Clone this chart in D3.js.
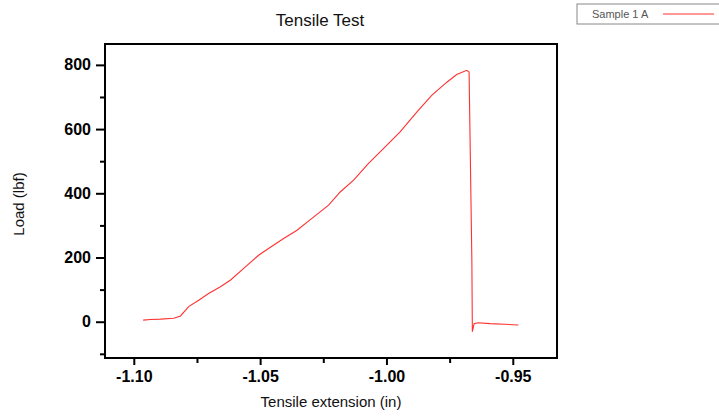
<!DOCTYPE html>
<html>
<head>
<meta charset="utf-8">
<script src="https://cdn.jsdelivr.net/npm/d3@7"></script>
<style>
  body { margin: 0; background: #fff; }
  svg { display: block; font-family: "Liberation Sans", Arial, sans-serif; }
</style>
</head>
<body>
<script>
// data
const extension = [-1.0963, -1.0934, -1.0894, -1.0842, -1.0815, -1.0783, -1.0743, -1.0704, -1.0657, -1.0617,
    -1.0565, -1.0506, -1.0486, -1.0407, -1.0354, -1.0295, -1.0229, -1.0183, -1.0130, -1.0071,
    -1.0012, -0.9946, -0.9880, -0.9821, -0.9761, -0.9722, -0.9682, -0.9673, -0.9662, -0.9660,
    -0.9653, -0.9638, -0.9590, -0.9531, -0.9478];
const load = [5, 7, 8, 11, 18, 47, 67, 88, 109, 130,
    166, 207, 218, 259, 285, 322, 363, 404, 441, 493,
    539, 591, 653, 705, 746, 770, 783, 778, 192, -31,
    -6, -3, -6, -8, -10];
const yTicks = [0, 200, 400, 600, 800];
const yMinor = [-100, 100, 300, 500, 700];
const xTicks = [-1.10, -1.05, -1.00, -0.95];
const xMinor = [-1.075, -1.025, -0.975];

const W = 719, H = 417;
const margin = { top: 44, right: 162, bottom: 59, left: 105 };
const width = W - margin.left - margin.right;
const height = H - margin.top - margin.bottom;

const root = d3.select("body").append("svg")
    .attr("width", W)
    .attr("height", H);

const svg = root.append("g")
    .attr("transform", "translate(" + margin.left + "," + margin.top + ")");

var xScale = d3.scaleLinear()
    .domain([-1.1114, -0.9325])
    .range([0, width]);
var yScale = d3.scaleLinear()
    .domain([-113, 865])
    .range([height, 0]);

// the curve
const points = extension.map((d, i) => [d, load[i]]);
svg.append("path")
    .datum(points)
    .attr("fill", "none")
    .attr("stroke", "#ff3030")
    .attr("stroke-width", 1.1)
    .attr("d", d3.line().x(d => xScale(d[0])).y(d => yScale(d[1])));

// axes
function styleAxis(g) {
    g.select(".domain").remove();
    g.selectAll("line").attr("stroke", "#000").attr("stroke-width", 2);
    g.selectAll("text")
        .attr("fill", "#000")
        .attr("font-weight", "bold")
        .attr("font-size", "16px")
        .attr("font-family", "'Liberation Sans', Arial, sans-serif");
}

svg.append("g")
    .call(d3.axisLeft(yScale).tickValues(yMinor).tickSize(5).tickFormat(""))
    .call(styleAxis);
svg.append("g")
    .call(d3.axisLeft(yScale).tickValues(yTicks).tickSize(9).tickPadding(5).tickFormat(d3.format("d")))
    .call(styleAxis);

svg.append("g")
    .attr("transform", "translate(0," + height + ")")
    .call(d3.axisBottom(xScale).tickValues(xMinor).tickSize(5).tickFormat(""))
    .call(styleAxis);
svg.append("g")
    .attr("transform", "translate(0," + height + ")")
    .call(d3.axisBottom(xScale).tickValues(xTicks).tickSize(7).tickPadding(6)
        .tickFormat(d => d3.format(".2f")(d).replace("\u2212", "-")))
    .call(styleAxis);

// frame
svg.append("rect")
    .attr("width", width)
    .attr("height", height)
    .attr("fill", "none")
    .attr("stroke", "#000")
    .attr("stroke-width", 2);

// titles
root.append("text")
    .attr("x", 320)
    .attr("y", 26)
    .attr("text-anchor", "middle")
    .attr("font-size", "17px")
    .attr("fill", "#111")
    .text("Tensile Test");

root.append("text")
    .attr("x", margin.left + width / 2)
    .attr("y", 407)
    .attr("text-anchor", "middle")
    .attr("font-size", "15px")
    .attr("fill", "#111")
    .text("Tensile extension (in)");

root.append("text")
    .attr("transform", "translate(24," + (margin.top + 160) + ") rotate(-90)")
    .attr("text-anchor", "middle")
    .attr("font-size", "15px")
    .attr("fill", "#111")
    .text("Load (lbf)");

// legend
const legend = root.append("g").attr("transform", "translate(577,4)");
legend.append("rect")
    .attr("width", 150)
    .attr("height", 20)
    .attr("fill", "#fff")
    .attr("stroke", "#888")
    .attr("stroke-width", 1);
legend.append("text")
    .attr("x", 15)
    .attr("y", 14)
    .attr("font-size", "11px")
    .attr("fill", "#555")
    .text("Sample 1 A");
legend.append("line")
    .attr("x1", 86).attr("x2", 137)
    .attr("y1", 10).attr("y2", 10)
    .attr("stroke", "#ff3030")
    .attr("stroke-width", 1);
</script>
</body>
</html>
